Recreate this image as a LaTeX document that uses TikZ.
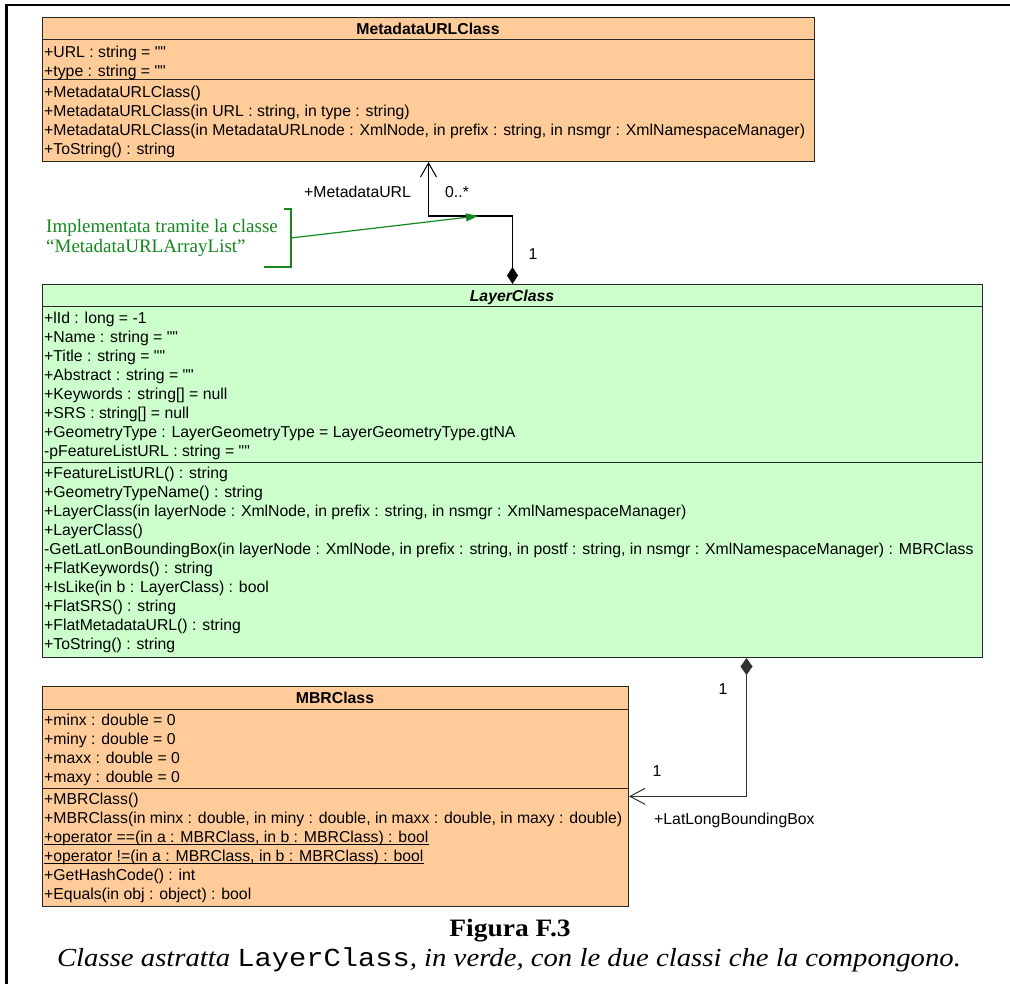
\documentclass[tikz,border=0pt]{standalone}
\usepackage{fontspec}
\setmainfont{Liberation Sans}
\newfontfamily\capserif{Liberation Serif}
\newfontfamily\capmono{Liberation Mono}
\usetikzlibrary{arrows.meta,calc}

\definecolor{classorange}{RGB}{255,204,153}
\definecolor{classgreen}{RGB}{204,255,204}
\definecolor{notegreen}{RGB}{20,135,30}

% straight double quote, kept out of the TeX quote mapping
\newcommand\strq{\XeTeXglyph\XeTeXcharglyph"22\relax}
\newcommand\emptystr{\strq\strq}

\tikzset{
  umltext/.style={font=\fontsize{15.8}{19}\selectfont, inner sep=0pt, text=black},
  member/.style={umltext, anchor=base west},
  classname/.style={umltext, anchor=base, font=\fontsize{15.8}{19}\selectfont\bfseries},
  abstractname/.style={umltext, anchor=base, font=\fontsize{15.8}{19}\selectfont\bfseries\itshape},
  classbox/.style={draw=black!85, line width=1pt, anchor=north west, inner sep=0pt},
  orangeclass/.style={classbox, fill=classorange},
  greenclass/.style={classbox, fill=classgreen},
  compartment/.style={draw=black!85, line width=1pt},
  composition/.style={line width=1.8pt,
    arrows={Diamond[length=17pt,width=11pt]-Straight Barb[length=14pt,width=16pt,line width=1pt]}},
  compositionthin/.style={draw=black!80, line width=1pt,
    arrows={Diamond[length=17pt,width=12pt]-Straight Barb[length=15pt,width=16pt,line width=1pt]}},
  rolelabel/.style={umltext, anchor=base west},
  notetext/.style={font=\capserif\fontsize{19}{20}\selectfont, text=notegreen, inner sep=0pt, anchor=base west},
  notebracket/.style={draw=notegreen, line width=1.2pt},
  notearrow/.style={draw=notegreen, line width=1.2pt, arrows={-Triangle[length=12pt,width=8pt]}},
  staticline/.style={draw=black, line width=0.8pt},
  framerule/.style={draw=black, line width=2.5pt},
}

\begin{document}
\begin{tikzpicture}[x=1pt,y=-1pt]
\useasboundingbox (0,0) rectangle (1010,984);

% outer frame (top and left rules only)
\draw[framerule] (1010,5) -- (6.5,5) -- (6.5,984);

% ---------------- MetadataURLClass ----------------
\node[orangeclass, minimum width=772pt, minimum height=144pt] (meta) at (42,17) {};
\draw[compartment] ($(meta.north west)+(0,23)$) -- ($(meta.north east)+(0,23)$);
\draw[compartment] ($(meta.north west)+(0,62.5)$) -- ($(meta.north east)+(0,62.5)$);
\node[classname] (metaname) at (428,34.2) {MetadataURLClass};
\node[member] (ma1) at (44,57.2) {+URL : string = \emptystr};
\node[member] (ma2) at (44,76.2) {+type : string = \emptystr};
\node[member] (mo1) at (44,97.7) {+MetadataURLClass()};
\node[member] (mo2) at (44,116.7) {+MetadataURLClass(in URL : string, in type : string)};
\node[member] (mo3) at (44,135.7) {+MetadataURLClass(in MetadataURLnode : XmlNode, in prefix : string, in nsmgr : XmlNamespaceManager)};
\node[member] (mo4) at (44,154.7) {+ToString() : string};

% ---------------- LayerClass ----------------
\node[greenclass, minimum width=940pt, minimum height=373pt] (layer) at (42,284) {};
\draw[compartment] ($(layer.north west)+(0,22.7)$) -- ($(layer.north east)+(0,22.7)$);
\draw[compartment] ($(layer.north west)+(0,178.7)$) -- ($(layer.north east)+(0,178.7)$);
\node[abstractname] (layername) at (512,301.7) {LayerClass};
\node[member] (la1) at (44,323.5) {+lId : long = -1};
\node[member] (la2) at (44,342.5) {+Name : string = \emptystr};
\node[member] (la3) at (44,361.5) {+Title : string = \emptystr};
\node[member] (la4) at (44,380.5) {+Abstract : string = \emptystr};
\node[member] (la5) at (44,399.5) {+Keywords : string[] = null};
\node[member] (la6) at (44,418.5) {+SRS : string[] = null};
\node[member] (la7) at (44,437.5) {+GeometryType : LayerGeometryType = LayerGeometryType.gtNA};
\node[member] (la8) at (44,456.5) {-pFeatureListURL : string = \emptystr};
\node[member] (lo1) at (44,478.7) {+FeatureListURL() : string};
\node[member] (lo2) at (44,497.7) {+GeometryTypeName() : string};
\node[member] (lo3) at (44,516.7) {+LayerClass(in layerNode : XmlNode, in prefix : string, in nsmgr : XmlNamespaceManager)};
\node[member] (lo4) at (44,535.7) {+LayerClass()};
\node[member] (lo5) at (44,554.7) {-GetLatLonBoundingBox(in layerNode : XmlNode, in prefix : string, in postf : string, in nsmgr : XmlNamespaceManager) : MBRClass};
\node[member] (lo6) at (44,573.7) {+FlatKeywords() : string};
\node[member] (lo7) at (44,592.7) {+IsLike(in b : LayerClass) : bool};
\node[member] (lo8) at (44,611.7) {+FlatSRS() : string};
\node[member] (lo9) at (44,630.7) {+FlatMetadataURL() : string};
\node[member] (lo10) at (44,649.7) {+ToString() : string};

% ---------------- MBRClass ----------------
\node[orangeclass, minimum width=586pt, minimum height=220.3pt] (mbr) at (42,685.7) {};
\draw[compartment] ($(mbr.north west)+(0,23.3)$) -- ($(mbr.north east)+(0,23.3)$);
\draw[compartment] ($(mbr.north west)+(0,102.6)$) -- ($(mbr.north east)+(0,102.6)$);
\node[classname] (mbrname) at (335,703) {MBRClass};
\node[member] (ba1) at (44,725.7) {+minx : double = 0};
\node[member] (ba2) at (44,744.7) {+miny : double = 0};
\node[member] (ba3) at (44,763.7) {+maxx : double = 0};
\node[member] (ba4) at (44,782.7) {+maxy : double = 0};
\node[member] (bo1) at (44,804.3) {+MBRClass()};
\node[member] (bo2) at (44,823.3) {+MBRClass(in minx : double, in miny : double, in maxx : double, in maxy : double)};
\node[member] (bo3) at (44,842.3) {+operator ==(in a : MBRClass, in b : MBRClass) : bool};
\node[member] (bo4) at (44,861.3) {+operator !=(in a : MBRClass, in b : MBRClass) : bool};
\node[member] (bo5) at (44,880.3) {+GetHashCode() : int};
\node[member] (bo6) at (44,899.3) {+Equals(in obj : object) : bool};
% static operations are underlined
\draw[staticline] ([yshift=-2pt]bo3.base west) -- ([yshift=-2pt]bo3.base east);
\draw[staticline] ([yshift=-2pt]bo4.base west) -- ([yshift=-2pt]bo4.base east);

% ---------------- associations ----------------
\draw[composition] (layer.north) -- ++(0,-68) -| (meta.south);
\node[rolelabel] (rolemeta) at (304,197.5) {+MetadataURL};
\node[rolelabel] (multmeta) at (445,197.5) {0..*};
\node[rolelabel] (multlayertop) at (528.5,259.7) {1};

\draw[compositionthin] ([xshift=234pt]layer.south) |- (mbr.east);
\node[rolelabel] (multlayerbot) at (718.5,694.7) {1};
\node[rolelabel] (multmbr) at (652.5,776.7) {1};
\node[rolelabel] (rolembr) at (654,824.7) {+LatLongBoundingBox};

% ---------------- implementation note ----------------
\node[notetext] (note1) at (46,232.7) {Implementata tramite la classe};
\node[notetext] (note2) at (46,252.7) {“MetadataURLArrayList”};
\coordinate (brackettop) at (284,209);
\coordinate (bracketbot) at (264,267);
\coordinate (bracketmid) at (291,238);
\coordinate (notetip) at (478,216);
\draw[notebracket] (brackettop) -- (291,209) -- (291,267) -- (bracketbot);
\draw[notearrow] (bracketmid) -- (notetip);

% ---------------- caption ----------------
\node[anchor=base, inner sep=0pt] (figlabel) at (510,936)
  {\scalebox{1.1}[1]{\capserif\bfseries\fontsize{25}{30}\selectfont Figura F.3}};
\node[anchor=base, inner sep=0pt] (figcaption) at (509,966.5)
  {\scalebox{1.105}[1]{\capserif\itshape\fontsize{26}{30}\selectfont Classe astratta {\capmono\upshape LayerClass}, in verde, con le due classi che la compongono.}};
\end{tikzpicture}
\end{document}
